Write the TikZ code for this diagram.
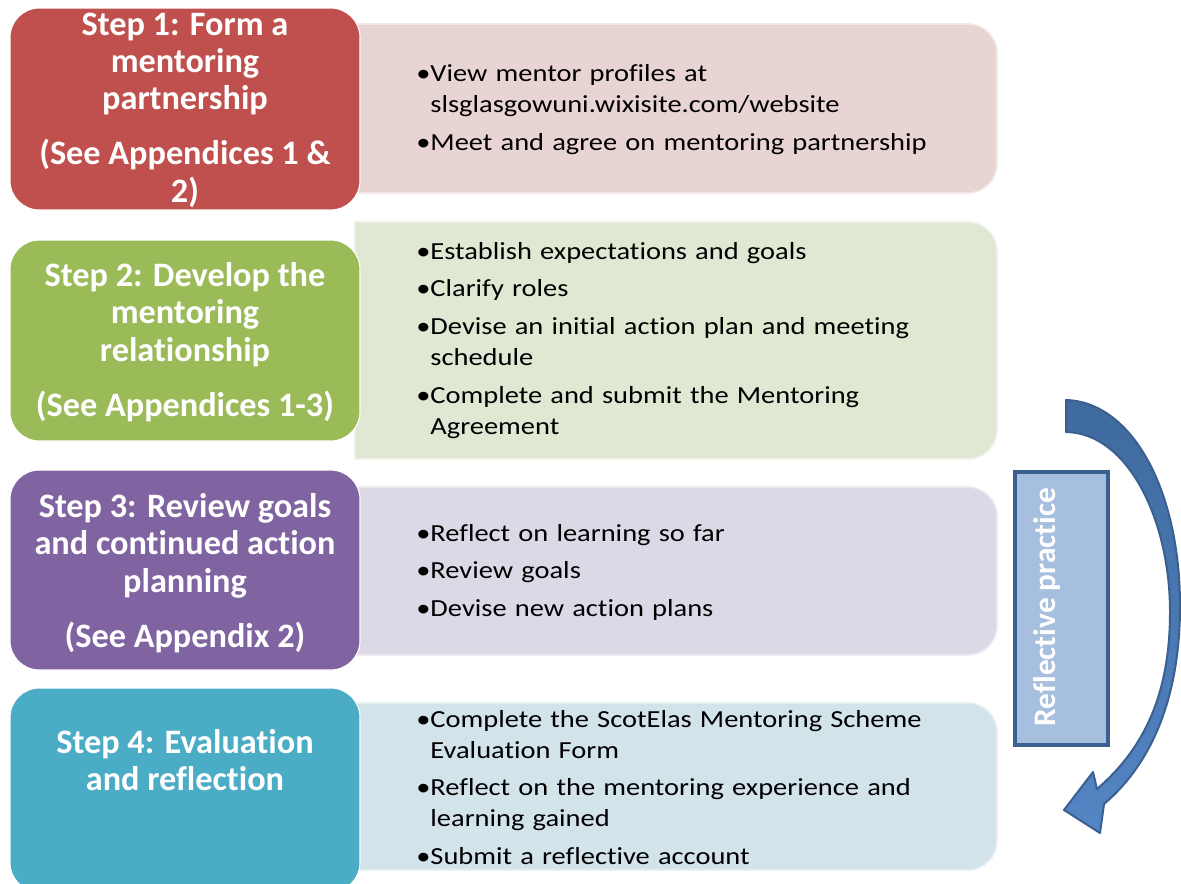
\documentclass[tikz,border=0pt]{standalone}
\usepackage{fontspec}
\setmainfont{Carlito}[Ligatures=NoCommon]
\newfontfamily\notefont{Carlito}[Ligatures=NoCommon,FakeStretch=1.16]

\definecolor{stepred}{HTML}{C0504D}
\definecolor{stepgreen}{HTML}{9BBB59}
\definecolor{steppurple}{HTML}{8064A2}
\definecolor{stepblue}{HTML}{4BACC6}
\definecolor{notered}{HTML}{E9D4D4}
\definecolor{notegreen}{HTML}{E0E8D3}
\definecolor{notepurple}{HTML}{DCD8E5}
\definecolor{noteblue}{HTML}{D2E3EA}
\definecolor{reflfill}{HTML}{A7BFDE}
\definecolor{refledge}{HTML}{3A6090}
\definecolor{arrowtop}{HTML}{3F6A9E}
\definecolor{arrowbot}{HTML}{5485C4}

% one bullet item, wrapped lines hang under the text
\newlength{\bulw}
\newcommand{\bul}{\par\hangindent=\bulw\hangafter=1\noindent\textbullet}

\tikzset{
  stepbox/.style={fill=#1, draw=white, line width=0.8pt, rounded corners=22pt},
  notebox/.style={fill=#1, draw=white!45!#1, line width=1.2pt},
  steptext/.style={text=white, align=center, inner sep=0pt,
    font=\bfseries\fontsize{25.7}{28.1}\selectfont},
  notetext/.style={anchor=west, text width=440pt, align=left, inner sep=0pt,
    font=\notefont\fontsize{18.4}{23.25}\selectfont,
    execute at begin node={\setlength{\parskip}{5pt}\settowidth{\bulw}{\textbullet}}},
}

\begin{document}
\begin{tikzpicture}[x=0.75pt,y=-0.75pt]
\useasboundingbox (0,0) rectangle (1181,883);
\fill[white] (0,0) rectangle (1181,883);

%% detail panels (square on the left, round on the right)
\path[notebox=notered]    (355,193) -- (355,24)  [rounded corners=22pt] -- (997,24)  -- (997,193) [sharp corners] -- cycle;
\path[notebox=notegreen]  (355,459) -- (355,222) [rounded corners=22pt] -- (997,222) -- (997,459) [sharp corners] -- cycle;
\path[notebox=notepurple] (355,655) -- (355,487) [rounded corners=22pt] -- (997,487) -- (997,655) [sharp corners] -- cycle;
\path[notebox=noteblue]   (355,870) -- (355,703) [rounded corners=22pt] -- (997,703) -- (997,870) [sharp corners] -- cycle;

%% step boxes
\path[stepbox=stepred]    (10,8)   rectangle (360,210);
\path[stepbox=stepgreen]  (10,240) rectangle (360,441);
\path[stepbox=steppurple] (10,470) rectangle (360,670);
\path[stepbox=stepblue]   (10,688) rectangle (360,892);

%% step titles
\node[steptext] (step1) at (185,110) {Step 1: Form a\\mentoring\\partnership\\[13pt](See Appendices 1 \&\\2)};
\node[steptext] (step2) at (185,342) {Step 2: Develop the\\mentoring\\relationship\\[13pt](See Appendices 1-3)};
\node[steptext] (step3) at (185,573) {Step 3: Review goals\\and continued action\\planning\\[13pt](See Appendix 2)};
\node[steptext] (step4) at (185,760) {Step 4: Evaluation\\and reflection};

%% step details
\node[notetext] (note1) at (416,99) {%
  \bul View mentor profiles at\newline slsglasgowuni.wixisite.com/website
  \bul Meet and agree on mentoring partnership\par};
\node[notetext] (note2) at (416,330) {%
  \bul Establish expectations and goals
  \bul Clarify roles
  \bul Devise an initial action plan and meeting\newline schedule
  \bul Complete and submit the Mentoring\newline Agreement\par};
\node[notetext] (note3) at (416,562) {%
  \bul Reflect on learning so far
  \bul Review goals
  \bul Devise new action plans\par};
\node[notetext] (note4) at (416,777) {%
  \bul Complete the ScotElas Mentoring Scheme\newline Evaluation Form
  \bul Reflect on the mentoring experience and\newline learning gained
  \bul Submit a reflective account\par};

%% side label
\draw[fill=reflfill, draw=refledge, line width=2.6pt] (1015,472) rectangle (1108,745);
\node[rotate=90, text=white, font=\bfseries\fontsize{23.5}{28}\selectfont] (refl) at (1047,607) {Reflective practice};

%% curved block arrow
\path[top color=arrowtop, bottom color=arrowbot, draw=refledge, line width=1.5pt, line join=round]
  (1066,400) .. controls (1132,402) and (1180,490) .. (1180,606)
  .. controls (1180,700) and (1150,765) .. (1104,804)
  -- (1100,833) -- (1064,810) -- (1093,772) -- (1097,789)
  .. controls (1140,752) and (1170,700) .. (1170,612)
  .. controls (1170,520) and (1128,433) .. (1066,432) -- cycle;
\end{tikzpicture}
\end{document}
